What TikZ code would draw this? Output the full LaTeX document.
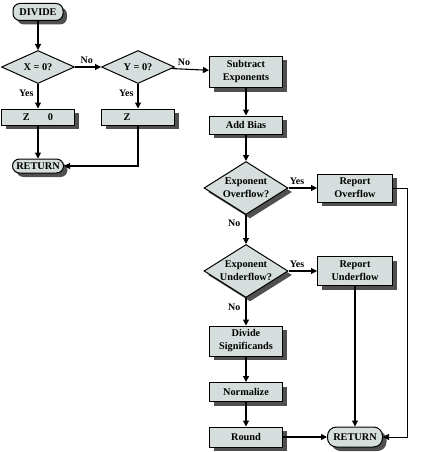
\documentclass[tikz,border=0pt]{standalone}
\usepackage{fontspec}
\setmainfont{Liberation Serif}
\usetikzlibrary{shapes.geometric,arrows.meta,shadows}
\definecolor{boxfill}{RGB}{214,221,221}
\definecolor{shadowc}{RGB}{80,80,80}
\begin{document}
\begin{tikzpicture}[x=1pt,y=-1pt,
  font=\fontsize{10.3}{13}\selectfont\bfseries,
  shad/.style={drop shadow={shadow xshift=4pt,shadow yshift=-4pt,fill=shadowc,opacity=1}},
  procbox/.style={draw,line width=1pt,fill=boxfill,shad,minimum width=73pt,inner sep=1pt,align=center},
  termbox/.style={draw,line width=1pt,fill=boxfill,shad,rounded corners=7pt,inner sep=1pt,align=center},
  smalldia/.style={draw,line width=1pt,fill=boxfill,diamond,aspect=2.2,inner sep=0pt,minimum width=73pt,minimum height=33pt,align=center},
  bigdia/.style={draw,line width=1pt,fill=boxfill,diamond,aspect=1.6,inner sep=0pt,minimum width=84pt,minimum height=53pt,align=center,shad},
  conn/.style={line width=1.1pt,-{Triangle[length=6pt,width=6pt]}},
  thinconn/.style={line width=0.7pt,-{Triangle[length=6pt,width=6pt]}},
  lbl/.style={font=\fontsize{10}{12}\selectfont\bfseries,inner sep=1pt}
]
\useasboundingbox (0,0) rectangle (439,452);

\node[termbox,minimum width=50pt,minimum height=17pt] (divide) at (38,12) {DIVIDE};
\node[smalldia] (x0) at (38,67) {X = 0?};
\node[smalldia] (y0) at (138,67) {Y = 0?};
\node[procbox,minimum height=16pt] (z0) at (38,117) {Z\hspace{18pt}0};
\node[procbox,minimum height=16pt] (z1) at (138,117) {Z\hspace{22pt}\mbox{}};
\node[termbox,minimum width=51pt,minimum height=14pt] (ret1) at (38,166) {RETURN};

\node[procbox,minimum height=31pt] (sub) at (246,72) {Subtract\\Exponents};
\node[procbox,minimum height=18pt] (bias) at (246,125) {Add Bias};
\node[bigdia] (ovf) at (246,188) {Exponent\\Overflow?};
\node[procbox,minimum width=75pt,minimum height=28pt] (rovf) at (355,188) {Report\\Overflow};
\node[bigdia] (unf) at (246,271) {Exponent\\Underflow?};
\node[procbox,minimum width=75pt,minimum height=29pt] (runf) at (355,271) {Report\\Underflow};
\node[procbox,minimum height=30pt] (divs) at (246,341) {Divide\\Significands};
\node[procbox,minimum height=19pt] (norm) at (246,392) {Normalize};
\node[procbox,minimum height=20pt] (rnd) at (246,437) {Round};
\node[termbox,minimum width=55pt,minimum height=20pt,rounded corners=9pt] (ret2) at (355,437) {RETURN};

\coordinate (c1) at (138,166);
\coordinate (c2) at (407,188);
\coordinate (c3) at (407,437);

\draw[conn] (divide) -- (x0);
\draw[conn] (x0) -- node[lbl,pos=0.45,above=2pt] {No} (y0);
\draw[conn] (y0) -- node[lbl,pos=0.33,above=2pt] {No} (sub);
\draw[conn] (x0) -- node[lbl,pos=0.36,left=3pt] {Yes} (z0);
\draw[conn] (y0) -- node[lbl,pos=0.36,left=3pt] {Yes} (z1);
\draw[conn] (z0) -- (ret1);
\draw[conn] (z1.south) -- (c1) -- (ret1.east);
\draw[conn] (sub) -- (bias);
\draw[conn] (bias) -- (ovf);
\draw[conn] (ovf) -- node[lbl,pos=0.3,above=2pt] {Yes} (rovf);
\draw[conn] (ovf) -- node[lbl,pos=0.3,left=4pt] {No} (unf);
\draw[conn] (unf) -- node[lbl,pos=0.3,above=2pt] {Yes} (runf);
\draw[conn] (unf) -- node[lbl,pos=0.35,left=4pt] {No} (divs);
\draw[conn] (divs) -- (norm);
\draw[conn] (norm) -- (rnd);
\draw[conn] (rnd) -- (ret2);
\draw[conn] (runf) -- (ret2);
\draw[thinconn] (rovf.east) -- (c2) -- (c3) -- (ret2.east);
\end{tikzpicture}
\end{document}
